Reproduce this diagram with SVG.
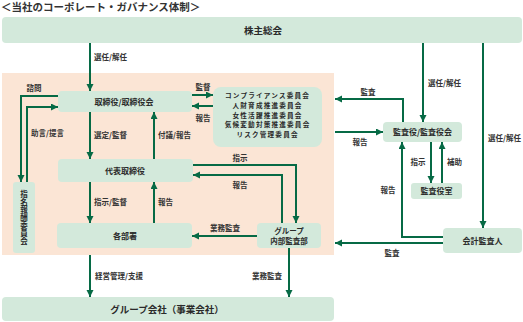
<svg xmlns="http://www.w3.org/2000/svg" width="523" height="322" viewBox="0 0 523 322">
<defs>
<style>
.bg{fill:#fbe5d5}
.box{fill:#d3e9db}
.t{font-family:"Noto Sans CJK JP","Noto Sans",sans-serif;font-size:8px;font-weight:700;fill:#2a2a2a;text-anchor:middle}
.sm{font-size:7.5px}
.cm{font-size:6.6px;letter-spacing:1.2px}
.big{font-size:9.5px}
.lb{font-family:"Noto Sans CJK JP","Noto Sans",sans-serif;font-size:7.5px;font-weight:700;fill:#333}
.mid{text-anchor:middle}
.ln{fill:none;stroke:#066a45;stroke-width:2}
.ar{marker-end:url(#ah)}
</style>
<marker id="ah" markerUnits="userSpaceOnUse" markerWidth="8" markerHeight="8" refX="7" refY="3.5" orient="auto">
<path d="M0,0 L7,3.5 L0,7 z" fill="#066a45"/>
</marker>
</defs>
<rect width="523" height="322" fill="#fff"/>
<text x="1" y="11" font-family="'Noto Sans CJK JP',sans-serif" font-size="10.5" font-weight="700" fill="#333">＜当社のコーポレート・ガバナンス体制＞</text>
<rect class="bg" x="2" y="73" width="332" height="182"/>

<g id="shareholders"><rect class="box" x="2" y="17" width="520" height="26" rx="4"/><text class="t big" x="263" y="33.5">株主総会</text></g>
<g id="board"><rect class="box" x="58" y="91" width="134" height="21" rx="4"/><text class="t" x="124" y="104.5">取締役/取締役会</text></g>
<g id="committees"><rect class="box" x="213" y="87" width="109" height="60" rx="8"/>
<text class="t cm" x="267.6" y="98.3">コンプライアンス委員会</text>
<text class="t cm" x="267.6" y="107.9">人財育成推進委員会</text>
<text class="t cm" x="267.6" y="117.5">女性活躍推進委員会</text>
<text class="t cm" x="267.6" y="127.1">気候変動対策推進委員会</text>
<text class="t cm" x="267.6" y="136.7">リスク管理委員会</text></g>
<g id="ceo"><rect class="box" x="58" y="159" width="135" height="23" rx="4"/><text class="t" x="125" y="173.5">代表取締役</text></g>
<g id="depts"><rect class="box" x="57" y="223" width="135" height="25" rx="4"/><text class="t" x="125" y="238.5">各部署</text></g>
<g id="nomination"><rect class="box" x="13" y="182" width="22" height="71" rx="3"/>
<text class="t sm" x="24" y="217.5" writing-mode="vertical-rl" letter-spacing="0.3">指名報酬委員会</text></g>
<g id="internal-audit"><rect class="box" x="257" y="223" width="64" height="25" rx="4"/>
<text class="t sm" x="289" y="234">グループ<tspan x="289" dy="10">内部監査部</tspan></text></g>
<g id="group"><rect class="box" x="2" y="297" width="332" height="24" rx="4"/><text class="t big" x="167" y="312.5">グループ会社（事業会社）</text></g>
<g id="auditors"><rect class="box" x="383" y="122" width="79" height="20" rx="4"/><text class="t" x="422.5" y="135">監査役/監査役会</text></g>
<g id="auditors-office"><rect class="box" x="411" y="183" width="51" height="16" rx="3"/><text class="t" x="436.5" y="194">監査役室</text></g>
<g id="accounting-auditor"><rect class="box" x="443" y="228" width="79" height="25" rx="4"/><text class="t" x="482.5" y="243.5">会計監査人</text></g>

<g id="connectors">
<path class="ln ar" d="M90,43 V91"/>
<path class="ln ar" d="M423,43 V122"/>
<path class="ln ar" d="M483,43 V228"/>
<path class="ln ar" d="M58,96 H21 V182"/>
<path class="ln ar" d="M27,182 V107 H58"/>
<path class="ln ar" d="M90,112 V159"/>
<path class="ln ar" d="M154,159 V112"/>
<path class="ln ar" d="M192,95 H213"/>
<path class="ln ar" d="M213,106 H192"/>
<path class="ln ar" d="M193,165 H296 V223"/>
<path class="ln ar" d="M282,223 V175 H193"/>
<path class="ln ar" d="M90,182 V223"/>
<path class="ln ar" d="M154,223 V182"/>
<path class="ln ar" d="M257,236 H192"/>
<path class="ln ar" d="M90,255 V297"/>
<path class="ln ar" d="M289,248 V297"/>
<path class="ln ar" d="M403,122 V99 H335"/>
<path class="ln ar" d="M335,132 H383"/>
<path class="ln ar" d="M431,142 V183"/>
<path class="ln ar" d="M442,183 V142"/>
<path class="ln ar" d="M443,237 H402 V142"/>
<path class="ln ar" d="M443,243 H335"/>
</g>
<g id="labels">
<text class="lb" x="94" y="60">選任/解任</text>
<text class="lb" x="428" y="86">選任/解任</text>
<text class="lb" x="488" y="141">選任/解任</text>
<text class="lb mid" x="34" y="91">諮問</text>
<text class="lb" x="31" y="136">助言/提言</text>
<text class="lb" x="94" y="138">選定/監督</text>
<text class="lb" x="158" y="138">付議/報告</text>
<text class="lb mid" x="203" y="90">監督</text>
<text class="lb mid" x="203" y="121">報告</text>
<text class="lb mid" x="240" y="161">指示</text>
<text class="lb mid" x="240" y="188">報告</text>
<text class="lb" x="94" y="205">指示/監督</text>
<text class="lb" x="158" y="205">報告</text>
<text class="lb mid" x="225" y="231">業務監査</text>
<text class="lb" x="95" y="279">経営管理/支援</text>
<text class="lb mid" x="267" y="279">業務監査</text>
<text class="lb mid" x="368" y="95">監査</text>
<text class="lb mid" x="360" y="145">報告</text>
<text class="lb mid" x="418" y="165">指示</text>
<text class="lb" x="447" y="165">補助</text>
<text class="lb mid" x="388" y="193">報告</text>
<text class="lb mid" x="392" y="256">監査</text>
</g>
</svg>
